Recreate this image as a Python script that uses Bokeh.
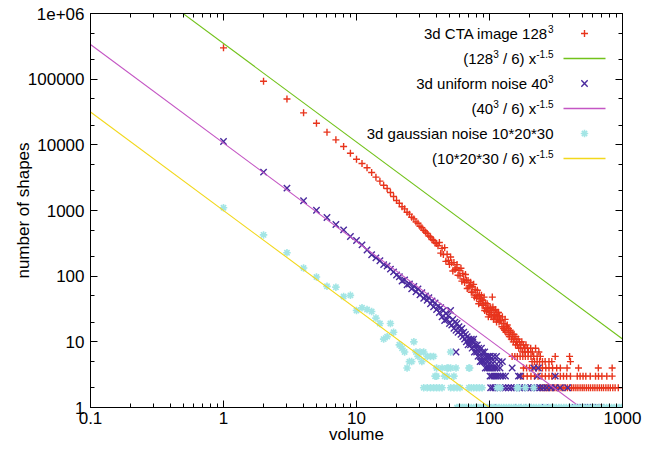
from bokeh.plotting import figure
from bokeh.models import FixedTicker, LogAxis, Label, Range1d
from bokeh.embed import file_html
from bokeh.resources import INLINE

FONT = "Liberation Sans"

# ---------------- data ----------------
# 3d CTA image 128^3 : volumes 1..120 (every integer) and their counts
cta_counts_1_120 = [
    300000, 93000, 50000, 30700, 21300, 15600, 11900, 9440, 7460, 6040,
    5200, 4470, 3790, 3220, 2800, 2430, 2160, 1880, 1630, 1420,
    1290, 1140, 1060, 940, 880, 790, 745, 670, 640, 575,
    545, 500, 470, 448, 410, 395, 362, 350, 322, 315,
    290, 325, 224, 265, 213, 272, 168, 216, 173, 151,
    196, 160, 120, 161, 126, 133, 150, 103, 123, 101,
    132, 84, 110, 90, 80, 106, 87, 65, 86, 68,
    72, 81, 57, 69, 57, 75, 48, 63, 51, 46,
    61, 50, 38, 52, 41, 45, 51, 36, 43, 36,
    48, 30, 39, 32, 29, 38, 32, 24, 33, 26,
    28, 33, 24, 30, 48, 34, 22, 30, 25, 23,
    31, 26, 20, 28, 22, 24, 28, 20, 25, 21]
cta_mid_vol = [122, 124, 125, 127, 128, 130, 131, 133, 134, 136, 138, 139, 141, 143,
               144, 146, 148, 150, 151, 153, 155, 157, 158, 160, 162, 164, 166, 168,
               170, 172, 175, 177, 180, 183, 185, 188, 193, 196, 204, 210, 222, 235]
cta_mid_cnt = [21, 17, 24, 16, 19, 15, 22, 14, 17, 18, 13, 16, 12, 15,
               14, 11, 13, 12, 10, 13, 11, 9, 12, 10, 9, 11, 8, 10,
               9, 8, 10, 7, 9, 8, 7, 9, 8, 7, 8, 7, 8, 7]
cta_count6 = [148, 155, 162, 170, 178, 186, 195, 205, 215, 228, 241, 312, 400]
cta_count5 = [209, 218, 228, 238, 250, 262, 280, 294, 406]
cta_count4 = [180, 190, 200, 212, 224, 236, 250, 265, 280, 298, 320, 341, 383, 467, 658, 836]
cta_count3 = [171, 180, 192, 205, 218, 232, 248, 263, 280, 294, 312, 341, 360, 380, 406,
              457, 480, 505, 530, 572, 627, 660, 700, 762, 836]
cta_count2 = [241, 250, 258, 265, 272, 280, 290, 300, 310, 320, 332, 345, 358, 370, 385,
              400, 415, 430, 446, 462, 480, 498, 515, 535, 555, 575, 598, 620, 645, 670,
              695, 720, 750, 780, 810, 845, 880, 930]
cta_count1 = [460, 490, 520, 548, 575, 600, 640, 690, 720]

# 3d uniform noise 40^3 : volumes 1..100 and counts
uni_counts_1_100 = [
    11250, 3840, 2190, 1410, 1010, 783, 613, 508, 402, 349,
    300, 250, 212, 190, 172, 150, 143, 128, 116, 104,
    98, 84, 88, 74, 76, 64, 70, 58, 64, 52,
    56, 46, 50, 43, 47, 38, 42, 34, 39, 31,
    35, 28, 33, 24, 30, 21, 27, 22, 25, 19,
    30, 18, 22, 16, 20, 15, 19, 14, 17, 15,
    13, 16, 12, 14, 11, 13, 10, 12, 9, 11,
    10, 9, 11, 8, 10, 11, 7, 9, 8, 7,
    9, 6, 8, 7, 5, 6, 8, 5, 7, 6,
    5, 7, 4, 6, 5, 4, 6, 5, 4, 6]
uni_extra_vol = [56]
uni_extra_cnt = [7]
uni_count6 = [101, 107, 113]
uni_count5 = [103, 109, 118, 125]
uni_count4 = [102, 106, 110, 114, 120, 148, 215, 233]
uni_count3 = [101, 104, 108, 112, 116, 121, 126, 132, 165, 170, 229, 312]
uni_count2 = [102, 106, 110, 115, 120, 126, 132, 139, 146, 153, 160, 168, 176, 185, 195,
              205, 216, 228, 241, 255, 270, 290, 312, 340, 387]
uni_count1 = [105, 165, 197, 263, 440, 460, 480, 500, 520, 545, 572, 600, 640, 690]

# 3d gaussian noise 10*20*30
gau_vol = [1, 2, 3, 4, 5, 6, 7, 8, 9, 10, 11, 12, 13, 14, 15, 16, 17, 18, 19,
           21, 22, 23, 24, 25, 26, 27, 28, 29, 30, 31, 32,
           34, 36, 38, 40, 44, 48, 49, 51, 51, 56, 70, 71,
           39, 40, 46, 48, 54]
gau_cnt = [1100, 425, 227, 133, 97, 70, 68, 49, 51, 30, 33, 31, 29, 23, 19, 11, 12, 19, 14,
           9, 8, 7, 4, 5, 5, 10, 7, 6, 7, 5, 7,
           6, 6, 6, 4, 4, 4, 4, 7, 4, 4, 4, 4,
           3, 3, 3, 3, 3]
gau_count2 = [32, 34, 36, 38, 40, 42, 44, 51, 54, 57, 60, 70, 73, 76, 80, 84, 88,
              114, 121, 161, 165, 186, 215]
gau_count1 = [57, 59, 61, 63, 65, 67, 70, 73, 76, 79, 82, 85, 88, 92, 96, 100, 104, 108,
              113, 118, 123, 128, 134, 140, 146, 152, 159, 166, 173, 181, 189, 197, 206,
              215, 225, 235, 245, 256, 267, 279, 291, 304, 318, 332, 347, 362, 378, 395,
              413, 431, 450, 470, 491, 513, 536, 560, 585, 611, 638, 666, 696, 727, 759,
              793, 828, 865, 903, 943, 985, 1000]

# power-law reference lines: coefficient * x^exponent
fit_coefs = [128 ** 3 / 6, 40 ** 3 / 6, 10 * 20 * 30 / 6]
fit_exponent = -1.5
fit_x = [0.1, 1000]

x_ticks = [0.1, 1, 10, 100, 1000]
x_tick_labels = ["0.1", "1", "10", "100", "1000"]
y_ticks = [1, 10, 100, 1000, 10000, 100000, 1000000]
y_tick_labels = ["1", "10", "100", "1000", "10000", "100000", "1e+06"]

# ---------------- assemble series ----------------
def rows(*pairs):
    xs, ys = [], []
    for cnt, vols in pairs:
        xs += vols
        ys += [cnt] * len(vols)
    return xs, ys

cx, cy = rows((6, cta_count6), (5, cta_count5), (4, cta_count4), (3, cta_count3),
              (2, cta_count2), (1, cta_count1))
cta_x = list(range(1, 121)) + cta_mid_vol + cx
cta_y = cta_counts_1_120 + cta_mid_cnt + cy

ux, uy = rows((6, uni_count6), (5, uni_count5), (4, uni_count4), (3, uni_count3),
              (2, uni_count2), (1, uni_count1))
uni_x = list(range(1, 101)) + uni_extra_vol + ux
uni_y = uni_counts_1_100 + uni_extra_cnt + uy

gx, gy = rows((2, gau_count2), (1, gau_count1))
gau_x = gau_vol + gx
gau_y = gau_cnt + gy

RED = "#e8341c"
GREEN = "#72c21b"
PURPLE = "#4a2a9e"
MAGENTA = "#c456c4"
CYAN = "#a3e5e5"
YELLOW = "#f2d81c"

# ---------------- figure ----------------
W, H = 654, 450
FL, FR, FT, FB = 90.0, 622.0, 13.0, 407.0  # frame edges in page pixels

p = figure(width=W, height=H, x_axis_type="log", y_axis_type="log",
           x_range=Range1d(0.1, 1000), y_range=Range1d(1, 1e6),
           output_backend="svg", toolbar_location=None,
           min_border_left=int(FL), min_border_right=int(W - FR),
           min_border_top=int(FT), min_border_bottom=int(H - FB))
p.xgrid.visible = False
p.ygrid.visible = False
p.outline_line_color = "black"
p.outline_line_width = 1
p.background_fill_color = "white"
p.border_fill_color = "white"

x_minor = [m * 10.0 ** e for e in range(-1, 3) for m in range(2, 10)]
y_minor = [m * 10.0 ** e for e in range(0, 6) for m in (2, 5)]


def style_axis(ax, ticks, minor, labels, show):
    ax.ticker = FixedTicker(ticks=ticks, minor_ticks=minor)
    ax.major_tick_in = 7
    ax.major_tick_out = 0
    ax.minor_tick_in = 4
    ax.minor_tick_out = 0
    ax.axis_line_color = "black"
    ax.major_tick_line_color = "black"
    ax.minor_tick_line_color = "black"
    ax.major_label_text_font = FONT
    ax.major_label_text_color = "black"
    if show:
        ax.major_label_text_font_size = "17px"
        ax.major_label_overrides = dict(zip(ticks, labels))
    else:
        ax.major_label_text_font_size = "0px"
        ax.major_label_standoff = 0
        ax.major_label_overrides = {t: "" for t in ticks}


xa = p.below[0]
ya = p.left[0]
style_axis(xa, x_ticks, x_minor, x_tick_labels, True)
style_axis(ya, y_ticks, y_minor, y_tick_labels, True)
xa.major_label_standoff = 4
ya.major_label_standoff = 6
xa.axis_label = "volume"
ya.axis_label = "number of shapes"
for ax, so in ((xa, -2), (ya, -8)):
    ax.axis_label_text_font = FONT
    ax.axis_label_text_font_size = "17px"
    ax.axis_label_text_font_style = "normal"
    ax.axis_label_text_color = "black"
    ax.axis_label_standoff = so

top_ax = LogAxis()
right_ax = LogAxis()
style_axis(top_ax, x_ticks, x_minor, x_tick_labels, False)
style_axis(right_ax, y_ticks, y_minor, y_tick_labels, False)
p.add_layout(top_ax, "above")
p.add_layout(right_ax, "right")

# ---------------- data marks (gnuplot order) ----------------
MSIZE = {"cross": 7, "x": 9, "asterisk": 7.5}
MLW = {"cross": 1.4, "x": 1.4, "asterisk": 1.6}


def fit_line(c):
    return [c * x ** fit_exponent for x in fit_x]

p.scatter(cta_x, cta_y, marker="cross", size=MSIZE["cross"], line_color=RED, line_width=MLW["cross"])
p.line(fit_x, fit_line(fit_coefs[0]), line_color=GREEN, line_width=1.1)
p.scatter(uni_x, uni_y, marker="x", size=MSIZE["x"], line_color=PURPLE, line_width=MLW["x"])
p.line(fit_x, fit_line(fit_coefs[1]), line_color=MAGENTA, line_width=1.1)
p.scatter(gau_x, gau_y, marker="asterisk", size=MSIZE["asterisk"], line_color=CYAN,
          line_width=MLW["asterisk"])
p.line(fit_x, fit_line(fit_coefs[2]), line_color=YELLOW, line_width=1.1)

# ---------------- key (gnuplot style: text right, sample left) ----------------
def to_data(px, py):
    return (10 ** (-1 + 4 * (px - FL) / (FR - FL)), 10 ** (6 * (FB - py) / (FB - FT)))


AW = {'0': .556, '1': .556, '2': .556, '3': .556, '4': .556, '5': .556, '6': .556,
      '8': .556, '-': .333, '.': .278, ' ': .278, '/': .278, ')': .333, '(': .333,
      'x': .5, '*': .389}
MAIN, SUP = 15, 10


def tw(s, size):
    return sum(AW.get(ch, .556) for ch in s) * size


key_rows = [
    ([("3d CTA image 128", False), ("3", True)], "cross", RED, None),
    ([("(128", False), ("3", True), (" / 6) x", False), ("-1.5", True)], None, None, GREEN),
    ([("3d uniform noise 40", False), ("3", True)], "x", PURPLE, None),
    ([("(40", False), ("3", True), (" / 6) x", False), ("-1.5", True)], None, None, MAGENTA),
    ([("3d gaussian noise 10*20*30", False)], "asterisk", CYAN, None),
    ([("(10*20*30 / 6) x", False), ("-1.5", True)], None, None, YELLOW),
]
row_y0, row_dy = 33.0, 25.0
text_right = 553.0
for i, (pieces, marker, mcol, lcol) in enumerate(key_rows):
    ry = row_y0 + i * row_dy
    cur = text_right
    for text, sup in reversed(pieces):
        size = SUP if sup else MAIN
        yy = ry - 5 if sup else ry
        dx, dy = to_data(cur, yy)
        p.add_layout(Label(x=dx, y=dy, text=text.strip(), text_align="right",
                           text_baseline="middle", text_font=FONT,
                           text_font_size=f"{size}px", text_color="black"))
        cur -= tw(text, size)
    if marker:
        mx, my = to_data(584, ry)
        p.scatter([mx], [my], marker=marker, size=MSIZE[marker], line_color=mcol,
                  line_width=MLW[marker])
    else:
        x1, yv = to_data(563, ry)
        x2, _ = to_data(605, ry)
        p.line([x1, x2], [yv, yv], line_color=lcol, line_width=1.3)

open("out.html", "w").write(file_html(p, INLINE))
